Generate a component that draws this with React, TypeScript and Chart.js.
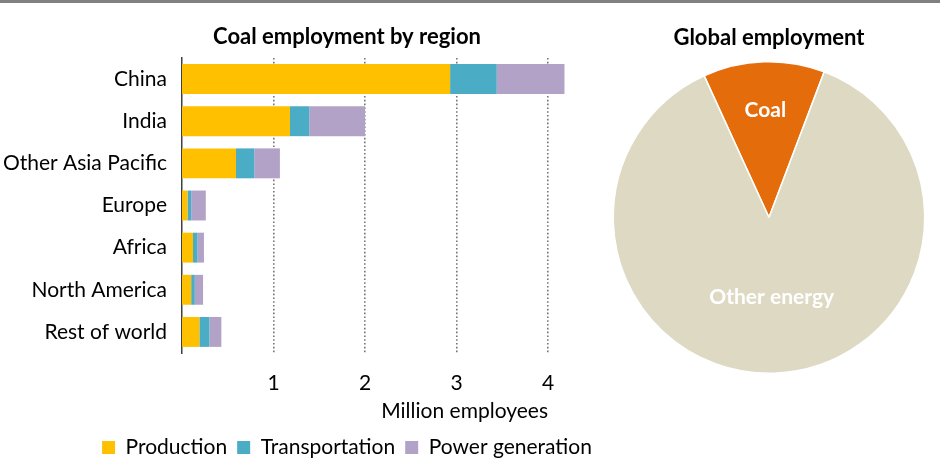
import React, { useEffect, useRef } from "react";
import { Chart, registerables } from "chart.js";

Chart.register(...registerables);

const regions = ["China", "India", "Other Asia Pacific", "Europe", "Africa", "North America", "Rest of world"];
const production = [2.93, 1.18, 0.59, 0.06, 0.12, 0.1, 0.19];
const transportation = [0.51, 0.21, 0.2, 0.04, 0.05, 0.04, 0.11];
const powerGeneration = [0.74, 0.61, 0.28, 0.16, 0.07, 0.09, 0.13];
const xTickValues = [1, 2, 3, 4];

const pieLabels = ["Coal", "Other energy"];
const pieValues = [12.6, 87.4];

const FONT = "Lato, 'Open Sans', sans-serif";
const TXT = 21;
const BOLD = 22;

export default function App() {
  const barRef = useRef<HTMLCanvasElement>(null);
  const pieRef = useRef<HTMLCanvasElement>(null);

  useEffect(() => {
    const bar = new Chart(barRef.current!, {
      type: "bar",
      data: {
        labels: regions,
        datasets: [
          { label: "Production", data: production, backgroundColor: "#FFC000" },
          { label: "Transportation", data: transportation, backgroundColor: "#4BACC6" },
          { label: "Power generation", data: powerGeneration, backgroundColor: "#B3A2C7" },
        ],
      },
      options: {
        indexAxis: "y",
        animation: false,
        responsive: false,
        maintainAspectRatio: false,
        layout: { padding: 0 },
        datasets: { bar: { barPercentage: 0.71, categoryPercentage: 1, borderWidth: 0, clip: false } },
        scales: {
          x: {
            stacked: true,
            min: 0,
            max: 4,
            afterBuildTicks: (s: any) => {
              s.ticks = xTickValues.map((v) => ({ value: v }));
            },
            afterFit: (s: any) => {
              s.height = 74;
            },
            grid: { color: "#767676", lineWidth: 1.6, drawTicks: false },
            border: { display: false, dash: [1.6, 2.2] },
            ticks: { padding: 18, color: "#000", font: { family: FONT, size: TXT }, maxRotation: 0 },
            title: {
              display: true,
              text: "Million employees",
              align: "end",
              color: "#000",
              font: { family: FONT, size: TXT },
              padding: { top: 0, bottom: 3.5 },
            },
          },
          y: {
            stacked: true,
            afterFit: (s: any) => {
              s.width = 182;
            },
            grid: { display: false, drawTicks: false },
            border: { display: true, color: "#404040", width: 1.5 },
            ticks: { padding: 15, color: "#000", font: { family: FONT, size: TXT } },
          },
          spacer: {
            type: "category",
            position: "right",
            labels: regions,
            afterFit: (s: any) => {
              s.width = 146;
            },
            grid: { display: false, drawTicks: false },
            border: { display: false },
            ticks: { display: false },
          },
        },
        plugins: {
          title: {
            display: true,
            text: "Coal employment by region",
            color: "#000",
            font: { family: FONT, size: BOLD, weight: "bold" },
            padding: { top: 24, bottom: 7.6 },
          },
          legend: {
            position: "bottom",
            labels: {
              color: "#000",
              font: { family: FONT, size: TXT },
              boxWidth: 13,
              boxHeight: 13,
              padding: 10,
            },
          },
          tooltip: { enabled: false },
        },
      },
    });

    const pieLabelPlugin = {
      id: "pieLabels",
      afterDatasetsDraw(chart: any) {
        const ctx = chart.ctx;
        const meta = chart.getDatasetMeta(0);
        const fracs = [0.686, 0.51];
        ctx.save();
        ctx.fillStyle = "#fff";
        ctx.font = `bold ${TXT}px ${FONT}`;
        ctx.textAlign = "center";
        ctx.textBaseline = "middle";
        meta.data.forEach((arc: any, i: number) => {
          const { x, y, startAngle, endAngle, outerRadius } = arc.getProps(
            ["x", "y", "startAngle", "endAngle", "outerRadius"],
            true
          );
          const mid = (startAngle + endAngle) / 2;
          const r = outerRadius * fracs[i];
          ctx.fillText(pieLabels[i], x + Math.cos(mid) * r, y + Math.sin(mid) * r);
        });
        ctx.restore();
      },
    };

    const pie = new Chart(pieRef.current!, {
      type: "pie",
      data: {
        labels: pieLabels,
        datasets: [
          {
            data: pieValues,
            backgroundColor: ["#E46C0A", "#DDD9C3"],
            borderColor: "#ffffff",
            borderWidth: 1.5,
          },
        ],
      },
      options: {
        animation: false,
        responsive: false,
        maintainAspectRatio: false,
        rotation: -24.6,
        layout: { padding: { bottom: 86, top: 0, left: 0, right: 0 } },
        plugins: {
          title: {
            display: true,
            text: "Global employment",
            color: "#000",
            font: { family: FONT, size: BOLD, weight: "bold" },
            padding: { top: 25, bottom: 9.6 },
          },
          legend: { display: false },
          tooltip: { enabled: false },
        },
      },
      plugins: [pieLabelPlugin],
    });

    return () => {
      bar.destroy();
      pie.destroy();
    };
  }, []);

  return (
    <div
      style={{
        position: "fixed",
        left: 0,
        top: 0,
        width: 940,
        height: 460,
        overflow: "hidden",
        background: "#fff",
      }}
    >
      <canvas ref={barRef} width={694} height={468} style={{ position: "absolute", left: 0, top: 0 }} />
      <canvas ref={pieRef} width={340} height={460} style={{ position: "absolute", left: 599, top: 0 }} />
      <div
        style={{
          position: "absolute",
          left: 0,
          top: 0,
          width: 940,
          height: 3,
          background: "#808080",
        }}
      />
    </div>
  );
}
